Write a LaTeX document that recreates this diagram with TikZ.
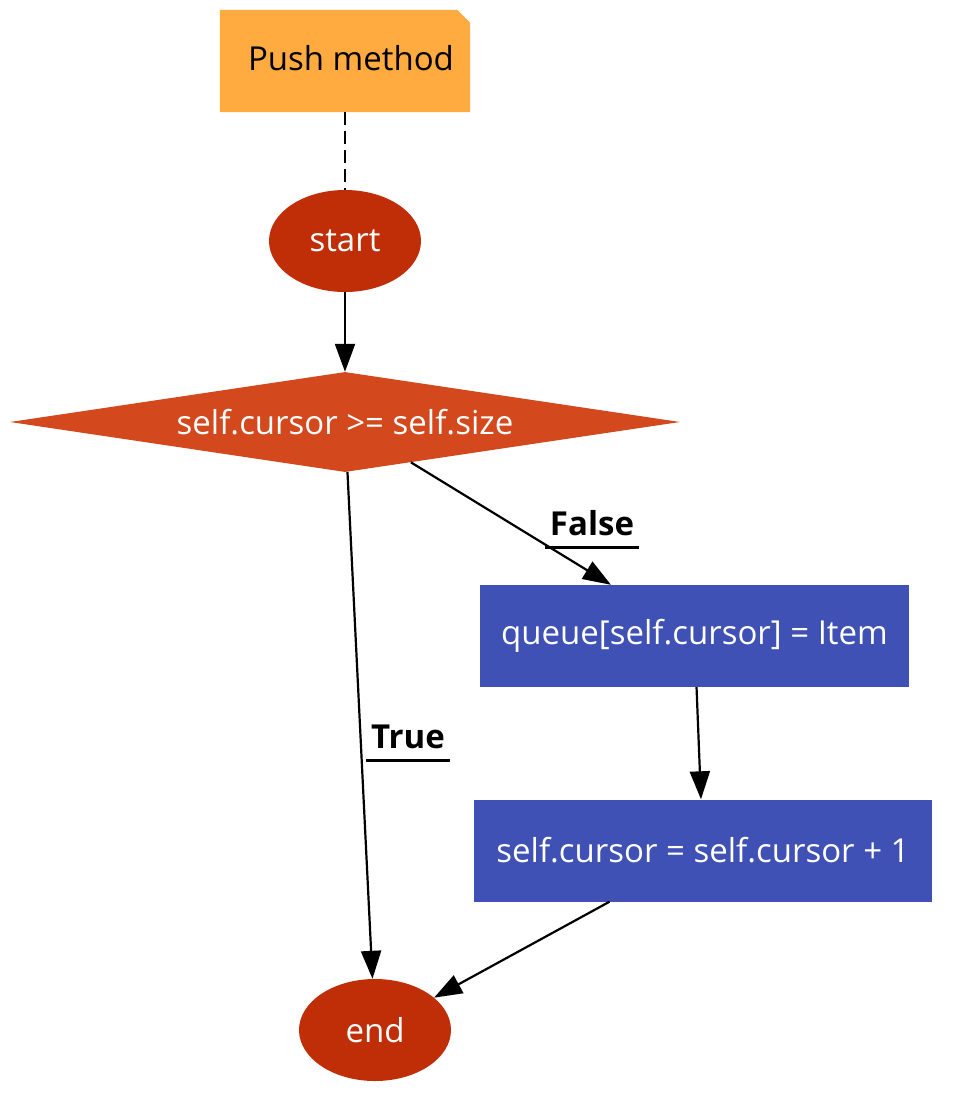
\documentclass[tikz,border=0pt]{standalone}
\usepackage{fontspec}
\setmainfont{Open Sans}
\usetikzlibrary{shapes.geometric,arrows.meta}
\definecolor{notecol}{HTML}{FFAB40}
\definecolor{termcol}{HTML}{C02E08}
\definecolor{testcol}{HTML}{D3481C}
\definecolor{stepcol}{HTML}{3F51B5}

\begin{document}
\begin{tikzpicture}[x=1pt, y=-1pt,
  txt/.style={font=\fontsize{33}{40}\selectfont},
  term/.style={ellipse, fill=termcol, text=white, minimum width=152pt, minimum height=102pt, inner sep=0pt, txt},
  test/.style={diamond, fill=testcol, text=white, aspect=6.7, minimum width=670pt, minimum height=100pt, inner sep=0pt, txt},
  stepbox/.style={rectangle, fill=stepcol, text=white, minimum height=102pt, inner sep=0pt, txt},
  edgelbl/.style={font=\fontsize{33}{40}\selectfont\bfseries, anchor=base, inner xsep=5pt, inner ysep=12pt},
  flow/.style={-{Triangle[length=28pt,width=20pt]}, line width=2.2pt}
]
\useasboundingbox (0,0) rectangle (956,1106);

% note
\node (note) [rectangle, minimum width=250pt, minimum height=102pt, inner sep=0pt] at (345,61) {};
\fill [notecol] (note.south west) -- (note.north west) -- ([xshift=-13pt]note.north east)
  -- ([yshift=-13pt]note.north east) -- (note.south east) -- cycle;
\node (notetext) [txt] at (351,58) {Push method};

\node (start) [term] at (345,241) {start};
\node (cond) [test] at (345,422) {self.cursor >= self.size};
\node (assign) [stepbox, minimum width=429pt] at (694.5,636) {queue[self.cursor] = Item};
\node (incr) [stepbox, minimum width=458pt] at (703,850.5) {self.cursor = self.cursor + 1};
\node (end) [term] at (375,1030) {end};

\draw [dash pattern=on 13pt off 6pt, line width=2.2pt] (note) -- (start);
\draw [flow] (start) -- (cond);
\draw [flow] (cond) -- (assign);
\draw [flow] (cond) -- (end);
\draw [flow] (assign) -- (incr);
\draw [flow] (incr) -- (end);

\node (lfalse) [edgelbl] at (592,535) {False};
\draw [line width=2.2pt] (lfalse.south west) -- (lfalse.south east);
\node (ltrue) [edgelbl] at (408,748) {True};
\draw [line width=2.2pt] (ltrue.south west) -- (ltrue.south east);
\end{tikzpicture}
\end{document}
